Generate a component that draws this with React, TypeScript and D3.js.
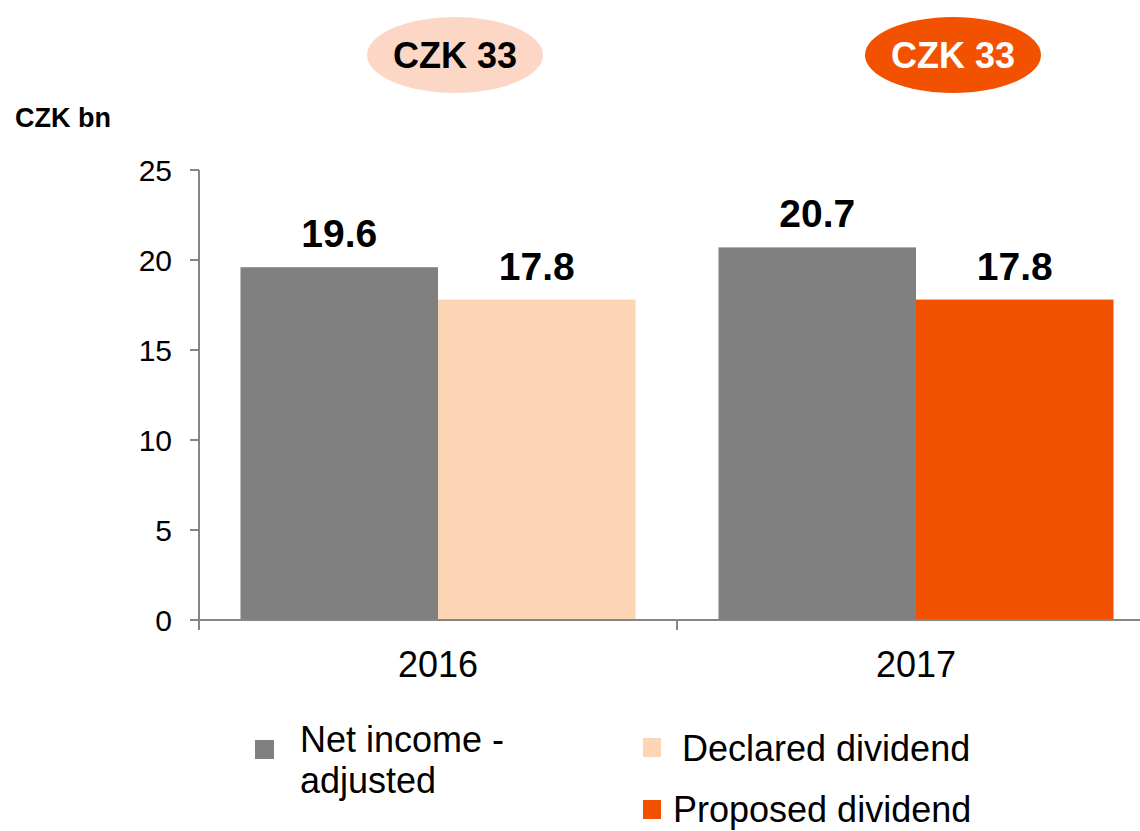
import React from "react";
import * as d3 from "d3";

const categories = ["2016", "2017"];
const netIncome = [19.6, 20.7];
const dividend = [17.8, 17.8];
const dividendKinds = ["Declared dividend", "Proposed dividend"];
const yTicks = [0, 5, 10, 15, 20, 25];
const totals = ["CZK 33", "CZK 33"];
const legendItems = ["Net income - adjusted", "Declared dividend", "Proposed dividend"];

const GRAY = "#808080";
const PEACH = "#fcd5b5";
const ORANGE = "#f25100";
const FONT = "Liberation Sans, Arial, sans-serif";

export default function App() {
  const W = 1140, H = 831;
  const left = 199, top = 170, bottom = 620, right = 1155;
  const y = d3.scaleLinear().domain([0, 25]).range([bottom, top]);
  const x = d3.scaleBand().domain(categories).range([left, right]).padding(0);
  const inner = d3.scaleBand().domain(["net", "div"]).range([0, x.bandwidth()]).paddingInner(0).paddingOuter(0.21);
  const fmt = d3.format(".1f");
  const divColor = (i: number) => (dividendKinds[i] === "Declared dividend" ? PEACH : ORANGE);
  const axisColor = "#868686";

  return (
    <svg width={W} height={H} style={{ position: "absolute", left: 0, top: 0, fontFamily: FONT }}>
      {categories.map((c, i) => {
        const cx = i === 0 ? 455 : 953;
        return (
          <g key={"t" + c}>
            <ellipse cx={cx} cy={55} rx={88} ry={38} fill={i === 0 ? "#fdd7c6" : ORANGE} />
            <text x={cx} y={68} textAnchor="middle" fontSize={36} fontWeight="bold" fill={i === 0 ? "#000" : "#fff"}>
              {totals[i]}
            </text>
          </g>
        );
      })}

      <text x={15} y={127} fontSize={27} fontWeight="bold" fill="#000">CZK bn</text>

      {categories.map((c, i) => {
        const x0 = x(c)!;
        const bw = inner.bandwidth();
        const xn = x0 + inner("net")!;
        const xd = x0 + inner("div")!;
        return (
          <g key={"b" + c}>
            <rect x={xn} y={y(netIncome[i])} width={bw} height={bottom - y(netIncome[i])} fill={GRAY} />
            <rect x={xd} y={y(dividend[i])} width={bw} height={bottom - y(dividend[i])} fill={divColor(i)} />
            <text x={xn + bw / 2} y={y(netIncome[i]) - 20} textAnchor="middle" fontSize={39} fontWeight="bold">
              {fmt(netIncome[i])}
            </text>
            <text x={xd + bw / 2} y={y(dividend[i]) - 20} textAnchor="middle" fontSize={39} fontWeight="bold">
              {fmt(dividend[i])}
            </text>
          </g>
        );
      })}

      <line x1={left} x2={left} y1={top} y2={bottom} stroke={axisColor} strokeWidth={2} />
      {yTicks.map((t) => (
        <g key={"y" + t}>
          <line x1={left - 9} x2={left} y1={y(t)} y2={y(t)} stroke={axisColor} strokeWidth={2} />
          <text x={172} y={y(t) + 11} textAnchor="end" fontSize={30} fill="#000">{t}</text>
        </g>
      ))}

      <line x1={left - 9} x2={right} y1={bottom} y2={bottom} stroke={axisColor} strokeWidth={2} />
      {[...categories.map((c) => x(c)!), right].map((p, i) => (
        <line key={"xt" + i} x1={p} x2={p} y1={bottom} y2={bottom + 10} stroke={axisColor} strokeWidth={2} />
      ))}
      {categories.map((c) => (
        <text key={"xl" + c} x={x(c)! + x.bandwidth() / 2} y={677} textAnchor="middle" fontSize={36} fill="#000">
          {c}
        </text>
      ))}

      <rect x={255} y={740} width={19} height={19} fill={GRAY} />
      <text x={300} y={752} fontSize={36} fill="#000">Net income -</text>
      <text x={300} y={793} fontSize={36} fill="#000">adjusted</text>
      <rect x={643} y={738} width={18} height={19} fill={PEACH} />
      <text x={682} y={761} fontSize={36} fill="#000">{legendItems[1]}</text>
      <rect x={643} y={800} width={18} height={19} fill={ORANGE} />
      <text x={673} y={822} fontSize={36} fill="#000">{legendItems[2]}</text>
    </svg>
  );
}
